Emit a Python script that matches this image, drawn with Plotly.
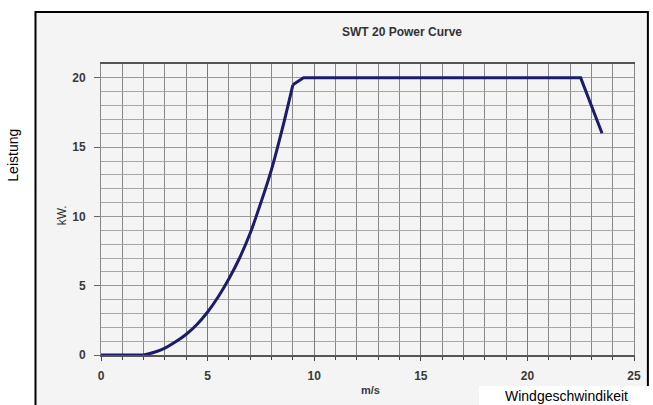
import plotly.graph_objects as go

# Data
wind_speed = [0, 1, 2, 2.5, 3, 3.5, 4, 4.5, 5, 5.5, 6, 6.5, 7, 7.5, 8, 8.5, 9, 9.5, 22.5, 23.5]
power_kw = [0, 0, 0, 0.2, 0.5, 0.95, 1.5, 2.2, 3.1, 4.2, 5.5, 7.0, 8.8, 11.0, 13.4, 16.3, 19.5, 20.0, 20.0, 16.0]
x_ticks = [0, 5, 10, 15, 20, 25]
y_ticks = [0, 5, 10, 15, 20]

W, H = 653, 405
L, R, T, B = 101, 15, 64, 50
pw, ph = W - L - R, H - T - B


def px(x):
    return (x - L) / pw


def py(y):
    return (H - B - y) / ph


FAM = "Arial, Liberation Sans, sans-serif"
LINE_COLOR = "#1c1c6b"

# segments: flat start, smooth rising part, rated plateau & cut-out
i_start = wind_speed.index(2)
i_rated = wind_speed.index(9)
segments = [
    (slice(0, i_start + 1), "linear"),
    (slice(i_start, i_rated + 1), "spline"),
    (slice(i_rated, len(wind_speed)), "linear"),
]

fig = go.Figure()
for sl, shape in segments:
    line = dict(color=LINE_COLOR, width=3, shape=shape)
    if shape == "spline":
        line["smoothing"] = 1.0
    fig.add_trace(go.Scatter(x=wind_speed[sl], y=power_kw[sl], mode="lines",
                             line=line, hoverinfo="skip"))

tickfont = dict(family=FAM, size=12, color="#3a3a3a")

fig.update_layout(
    width=W, height=H,
    margin=dict(l=L, r=R, t=T, b=B),
    paper_bgcolor="white",
    plot_bgcolor="#fcfcfc",
    showlegend=False,
    xaxis=dict(range=[0, 25], tickvals=x_ticks, ticktext=[f"<b>{v}</b>" for v in x_ticks],
               showgrid=True, gridcolor="#7a7a7a", gridwidth=1.3,
               minor=dict(dtick=1, showgrid=True, gridcolor="#888888", gridwidth=1.3,
                          ticks="outside", ticklen=3, tickcolor="#444"),
               ticks="outside", ticklen=4, tickcolor="#444",
               showline=True, linecolor="#555", linewidth=1.5, mirror=True,
               zeroline=False, tickfont=tickfont,
               ticklabelstandoff=5, fixedrange=True),
    yaxis=dict(range=[0, 21], tickvals=y_ticks, ticktext=[f"<b>{v}</b>" for v in y_ticks],
               showgrid=True, gridcolor="#999999", gridwidth=1,
               minor=dict(dtick=1, showgrid=True, gridcolor="#a8a8a8", gridwidth=1),
               ticks="outside", ticklen=6, tickcolor="#666",
               showline=True, linecolor="#888", linewidth=1, mirror=True,
               zeroline=False, tickfont=tickfont,
               ticklabelstandoff=6, fixedrange=True),
    shapes=[
        dict(type="rect", xref="paper", yref="paper", layer="below",
             x0=px(35), x1=px(652), y0=py(412), y1=py(12),
             line=dict(color="black", width=2), fillcolor="#f4f4f4"),
        dict(type="rect", xref="paper", yref="paper", layer="above",
             x0=px(482), x1=px(660), y0=py(410), y1=py(386),
             line=dict(width=0), fillcolor="white"),
    ],
    annotations=[
        dict(text="<b>SWT 20 Power Curve</b>", xref="paper", yref="paper", x=px(404), y=py(32),
             showarrow=False, font=dict(family=FAM, size=12, color="#333"),
             xanchor="center", yanchor="middle"),
        dict(text="<b>m/s</b>", xref="paper", yref="paper", x=px(373), y=py(390),
             showarrow=False, font=dict(family=FAM, size=11, color="#3a3a3a"),
             xanchor="center", yanchor="middle"),
        dict(text="kW.", xref="paper", yref="paper", x=px(62), y=py(215), textangle=-90,
             showarrow=False, font=dict(family=FAM, size=12, color="#333"),
             xanchor="center", yanchor="middle"),
        dict(text="Leistung", xref="paper", yref="paper", x=px(12), y=py(155), textangle=-90,
             showarrow=False, font=dict(family=FAM, size=14, color="black"),
             xanchor="center", yanchor="middle"),
        dict(text="Windgeschwindikeit", xref="paper", yref="paper", x=px(570), y=py(396),
             showarrow=False, font=dict(family=FAM, size=14, color="black"),
             xanchor="center", yanchor="middle"),
    ],
)

fig.write_html("out.html", config={"displayModeBar": False},
               post_script="document.body.style.margin='0';")
